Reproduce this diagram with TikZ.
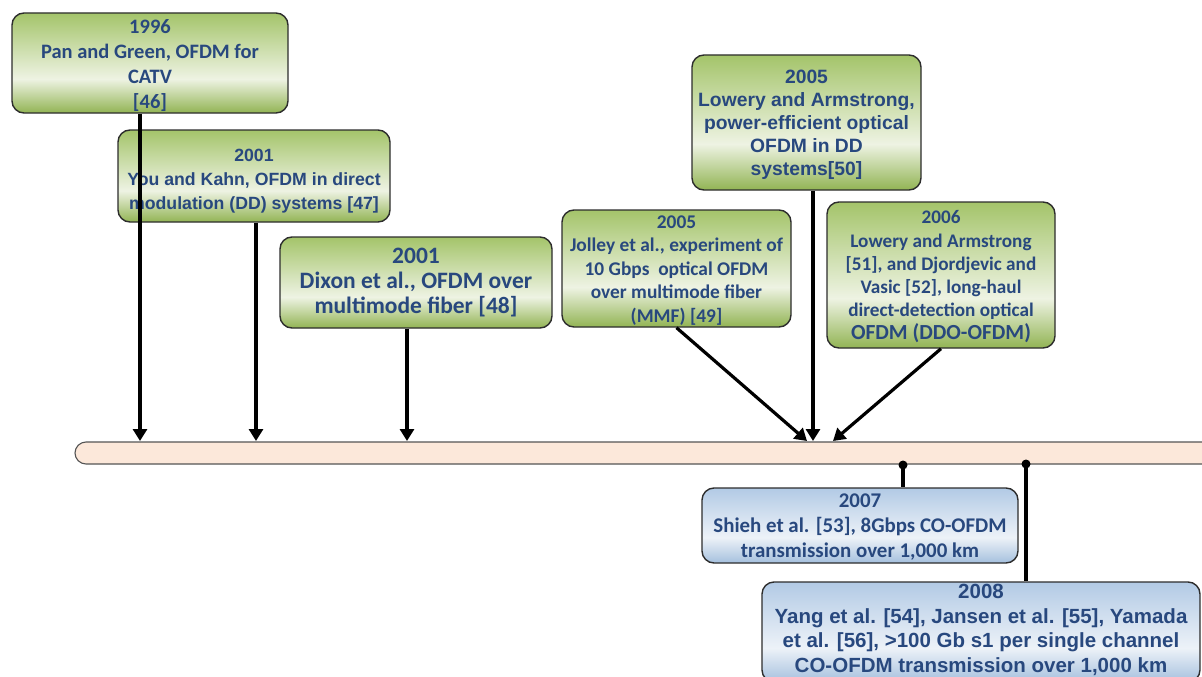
\documentclass[tikz,border=0pt]{standalone}
\usepackage{fontspec}
\usetikzlibrary{arrows.meta}
\newfontfamily\calfont{Carlito}
\newfontfamily\arifont{Liberation Sans}

\definecolor{txt}{RGB}{40,72,126}
\definecolor{boxline}{RGB}{45,45,45}
\definecolor{gtop}{RGB}{164,196,106}
\definecolor{gmid}{RGB}{238,243,227}
\definecolor{gbot}{RGB}{146,180,84}
\definecolor{btop}{RGB}{178,202,229}
\definecolor{bmid}{RGB}{237,242,248}
\definecolor{bbot}{RGB}{165,192,222}
\definecolor{peach}{RGB}{252,232,218}
\definecolor{barline}{RGB}{85,85,85}

% box fills: darker at top and bottom, pale band in the lower half
\pgfdeclareverticalshading{greenfill}{100bp}{color(0bp)=(gbot); color(25bp)=(gbot); color(42bp)=(gmid); color(75bp)=(gtop); color(100bp)=(gtop)}
\pgfdeclareverticalshading{bluefill}{100bp}{color(0bp)=(bbot); color(25bp)=(bbot); color(42bp)=(bmid); color(75bp)=(btop); color(100bp)=(btop)}

\tikzset{
  evt/.style={draw=boxline, line width=1.4pt, rounded corners=12pt, inner sep=0pt},
  gbox/.style={evt, shade, shading=greenfill},
  bbox/.style={evt, shade, shading=bluefill},
  lbl/.style={inner sep=0pt, align=center, text=txt},
  timebar/.style={draw=barline, line width=1.1pt, fill=peach, rounded corners=11pt,
                  minimum width=1140pt, minimum height=22pt, inner sep=0pt},
  arr/.style={line width=3.2pt, -{Triangle[width=14pt,length=12pt]}},
  stem/.style={line width=3.2pt},
}

\begin{document}
\begin{tikzpicture}[x=1pt,y=-1pt]
\clip (0,0) rectangle (1202,677);
\fill[white] (0,0) rectangle (1202,677);

% time axis
\node[timebar] (bar) at (645,453) {};

% event boxes
\node[gbox, minimum width=276pt, minimum height=100pt] (b1996)  at (150,63) {};
\node[gbox, minimum width=272pt, minimum height=92pt]  (b2001a) at (254,176) {};
\node[gbox, minimum width=272pt, minimum height=91pt]  (b2001b) at (416,282.5) {};
\node[gbox, minimum width=229pt, minimum height=117pt] (b2005a) at (676.5,268.5) {};
\node[gbox, minimum width=229pt, minimum height=135pt] (b2005b) at (806.5,122.5) {};
\node[gbox, minimum width=228pt, minimum height=146pt] (b2006)  at (941,275) {};
\node[bbox, minimum width=316pt, minimum height=75pt]  (b2007)  at (860,525.5) {};
\node[bbox, minimum width=438pt, minimum height=100pt] (b2008)  at (981,632) {};

% box texts
\node[lbl, font=\calfont\bfseries\fontsize{20.5}{25}\selectfont] (l1996)
  at ([yshift=-3pt]b1996.center) {1996\\Pan and Green, OFDM for\\CATV\\{}[46]};
\node[lbl, font=\arifont\bfseries\fontsize{17.7}{24}\selectfont] (l2001a)
  at ([yshift=-5pt]b2001a.center) {2001\\You and Kahn, OFDM in direct\\modulation (DD) systems [47]};
\node[lbl, font=\calfont\bfseries\fontsize{23.5}{25}\selectfont] (l2001b)
  at ([yshift=-0.5pt]b2001b.center) {2001\\Dixon et al., OFDM over\\multimode fiber [48]};
\node[lbl, font=\calfont\bfseries\fontsize{19.4}{23.5}\selectfont] (l2005a)
  at ([yshift=-2pt]b2005a.center) {2005\\Jolley et al., experiment of\\10 Gbps\ \ optical OFDM\\over multimode fiber\\(MMF) [49]};
\node[lbl, font=\arifont\bfseries\fontsize{19.3}{23}\selectfont] (l2005b)
  at ([yshift=-2.5pt]b2005b.center) {2005\\Lowery and Armstrong,\\power-efficient optical\\OFDM in DD\\systems[50]};
\node[lbl, font=\calfont\bfseries\fontsize{19.2}{23.2}\selectfont] (l2006)
  at ([yshift=-2pt]b2006.center) {2006\\Lowery and Armstrong\\{}[51], and Djordjevic and\\Vasic [52], long-haul\\direct-detection optical\\{\fontsize{21.5}{23.2}\selectfont OFDM (DDO-OFDM)}};
\node[lbl, font=\calfont\bfseries\fontsize{20.9}{25}\selectfont] (l2007)
  at ([yshift=-2pt]b2007.center) {2007\\Shieh et al. [53], 8Gbps CO-OFDM\\transmission over 1,000 km};
\node[lbl, font=\arifont\bfseries\fontsize{20.5}{24.5}\selectfont] (l2008)
  at ([yshift=2pt]b2008.center) {2008\\Yang et al. [54], Jansen et al. [55], Yamada\\et al. [56], >100 Gb s1 per single channel\\CO-OFDM transmission over 1,000 km};

% points on the axis
\coordinate (t1) at (140,441);
\coordinate (t2) at (256,441);
\coordinate (t3) at (407,441);
\coordinate (t4) at (807,441);
\coordinate (t5) at (813,441);
\coordinate (t6) at (833,441);
\coordinate (d1) at (903,465);
\coordinate (d2) at (1026,464);

% arrows onto the axis
\draw[arr] (b1996.south -| t1) -- (t1);
\draw[arr] (b2001a.south -| t2) -- (t2);
\draw[arr] (b2001b.south -| t3) -- (t3);
\draw[arr] (b2005a.south) -- (t4);
\draw[arr] (b2005b.south -| t5) -- (t5);
\draw[arr] (b2006.south) -- (t6);

% stems below the axis
\draw[stem] (d1) -- (b2007.north -| d1);
\fill (d1) circle (4.5pt);
\draw[stem] (d2) -- (b2008.north -| d2);
\fill (d2) circle (4.5pt);
\end{tikzpicture}
\end{document}
